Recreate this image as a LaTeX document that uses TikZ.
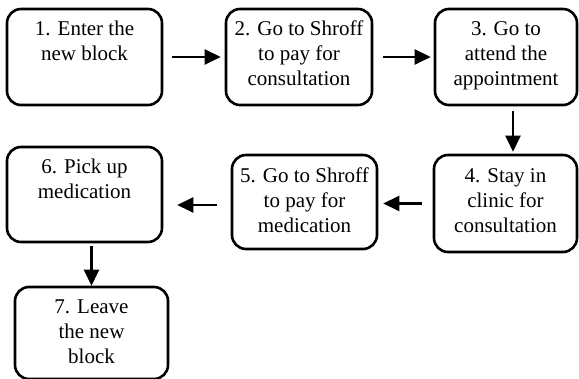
\documentclass[tikz,border=0pt]{standalone}
\usepackage{fontspec}
\setmainfont{Liberation Serif}
\usetikzlibrary{arrows.meta}
\begin{document}
\begin{tikzpicture}[x=1pt,y=-1pt,
  box/.style={draw, line width=2.6pt, rounded corners=14pt, inner sep=0pt},
  txt/.style={anchor=north, inner sep=0pt, align=center, font=\fontsize{21}{25}\selectfont},
  arr/.style={line width=2.5pt, -{Triangle[length=16pt,width=15pt]}}]
\useasboundingbox (0,0) rectangle (579,379);
% boxes
\node[box, minimum width=155pt, minimum height=96pt] (b1) at (84.5,57) {};
\node[box, minimum width=146pt, minimum height=96pt] (b2) at (299,57) {};
\node[box, minimum width=142pt, minimum height=96pt] (b3) at (506,57) {};
\node[box, minimum width=143pt, minimum height=97pt] (b4) at (505.5,203.5) {};
\node[box, minimum width=145pt, minimum height=94pt] (b5) at (304.5,202) {};
\node[box, minimum width=155pt, minimum height=95pt] (b6) at (84.5,194.5) {};
\node[box, minimum width=153pt, minimum height=92pt] (b7) at (91.5,333) {};
% texts
\node[txt] (t1) at ([yshift=-10.5pt]b1.north) {\strut 1. Enter the\\new block};
\node[txt] (t2) at ([yshift=-10.5pt]b2.north) {\strut 2. Go to Shroff\\to pay for\\consultation};
\node[txt] (t3) at ([yshift=-10.5pt]b3.north) {\strut 3. Go to\\attend the\\appointment};
\node[txt] (t4) at ([yshift=-11pt]b4.north) {\strut 4. Stay in\\clinic for\\consultation};
\node[txt] (t5) at ([yshift=-11pt]b5.north) {\strut 5. Go to Shroff\\to pay for\\medication};
\node[txt] (t6) at ([yshift=-10.5pt]b6.north) {\strut 6. Pick up\\medication};
\node[txt] (t7) at ([yshift=-10.5pt]b7.north) {\strut 7. Leave\\the new\\block};
% connectors
\draw[arr, shorten <=9pt, shorten >=4pt] (b1.east) -- (b2.west);
\draw[arr, shorten <=10pt, shorten >=3pt] (b2.east) -- (b3.west);
\draw[arr, shorten <=5pt, shorten >=2pt] ([xshift=7pt]b3.south) -- ([xshift=7.5pt]b4.north);
\draw[arr, shorten <=11pt, shorten >=5pt] (b4.west) -- (b4.west -| b5.east);
\draw[arr, shorten <=14pt, shorten >=14pt] ([yshift=-3pt]b5.west) -- ([yshift=-3pt]b5.west -| b6.east);
\draw[arr, shorten <=3pt, shorten >=0pt] (b6.south -| b7.north) -- (b7.north);
\end{tikzpicture}
\end{document}
